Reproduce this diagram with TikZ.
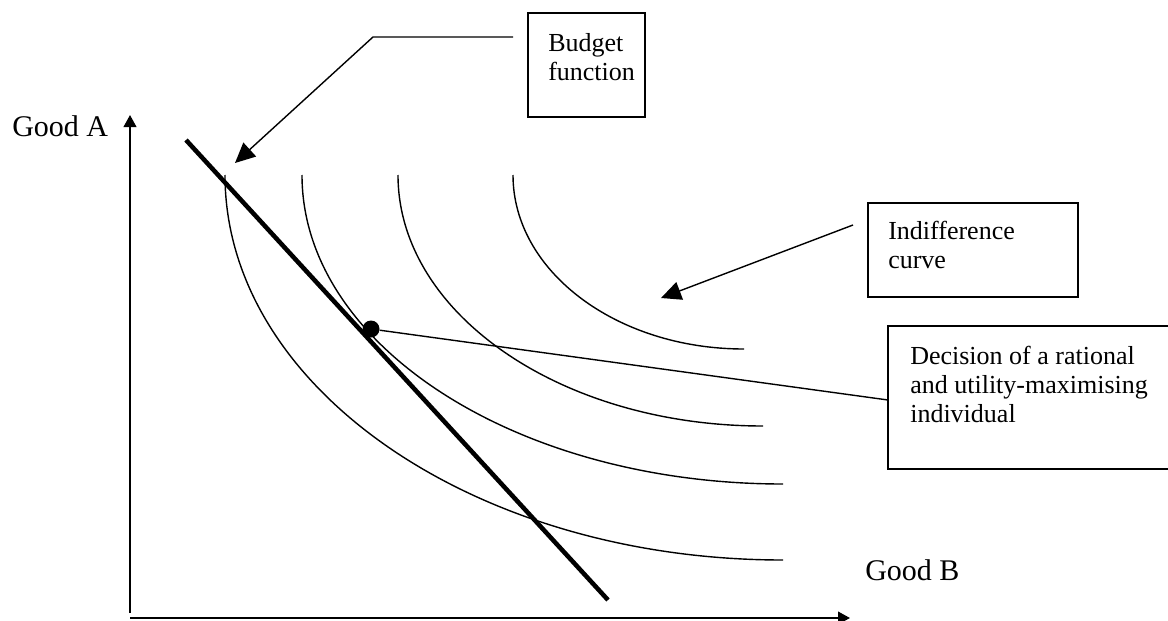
\documentclass[tikz,border=0pt]{standalone}
\usepackage{fontspec}
\setmainfont{Liberation Serif}
\usetikzlibrary{arrows.meta}
\begin{document}
\begin{tikzpicture}[x=0.75pt,y=-0.75pt,
  curveline/.style={line width=1.05pt},
  budgetline/.style={line width=3.4pt},
  axisline/.style={line width=1.4pt,-{Triangle[length=9pt,width=9.5pt]}},
  callout/.style={line width=1.05pt,-{Triangle[length=15pt,width=14pt]}},
  boxframe/.style={draw,line width=1.1pt},
  boxtext/.style={inner sep=0pt,anchor=north west,align=left,font=\fontsize{19.5}{21.75}\selectfont},
  axislabel/.style={inner sep=0pt,anchor=base west,font=\fontsize{22.5}{26}\selectfont}]
\useasboundingbox (0,0) rectangle (1168,621);
\clip (0,0) rectangle (1168,621);
% boxes
\draw[boxframe] (528,13) rectangle (645,117);
\node[boxtext] (budgettext) at (548,33) {Budget\\function};
\draw[boxframe] (868,203) rectangle (1078,297);
\node[boxtext] (indtext) at (888,221) {Indifference\\curve};
\draw[boxframe] (888,326) rectangle (1180,469);
\node[boxtext] (dectext) at (910,346) {Decision of a rational\\and utility-maximising\\individual};
% axes
\coordinate (ybot) at (130,613);
\coordinate (ytop) at (130,115);
\coordinate (xleft) at (130,618);
\coordinate (xright) at (850,618);
\draw[axisline] (ybot) -- (ytop);
\draw[axisline] (xleft) -- (xright);
\node[axislabel] (goodA) at (12,136) {Good A};
\node[axislabel] (goodB) at (865,580) {Good B};
% indifference curves
\draw[curveline] (225,175) .. controls (225,387.6) and (474.8,560) .. (783,560);
\draw[curveline] (302,175) .. controls (302,345.7) and (517.3,484) .. (783,484);
\draw[curveline] (398,175) .. controls (398,313.6) and (561.4,426) .. (763,426);
\draw[curveline] (513,175) .. controls (513,271.1) and (616.4,349) .. (744,349);
% budget line
\coordinate (btop) at (186,140);
\coordinate (bbot) at (608,600);
\draw[budgetline] (btop) -- (bbot);
% decision point
\node[circle,fill=black,inner sep=0pt,minimum size=12.75pt] (dot) at (371,329) {};
\coordinate (decend) at (888,400);
\draw[curveline] (dot) -- (decend);
% callouts
\coordinate (bstart) at (513,37);
\coordinate (bcorner) at (373,37);
\coordinate (btip) at (235,163);
\draw[callout] (bstart) -- (bcorner) -- (btip);
\coordinate (istart) at (853,225);
\coordinate (itip) at (661,298);
\draw[callout] (istart) -- (itip);
\end{tikzpicture}
\end{document}
